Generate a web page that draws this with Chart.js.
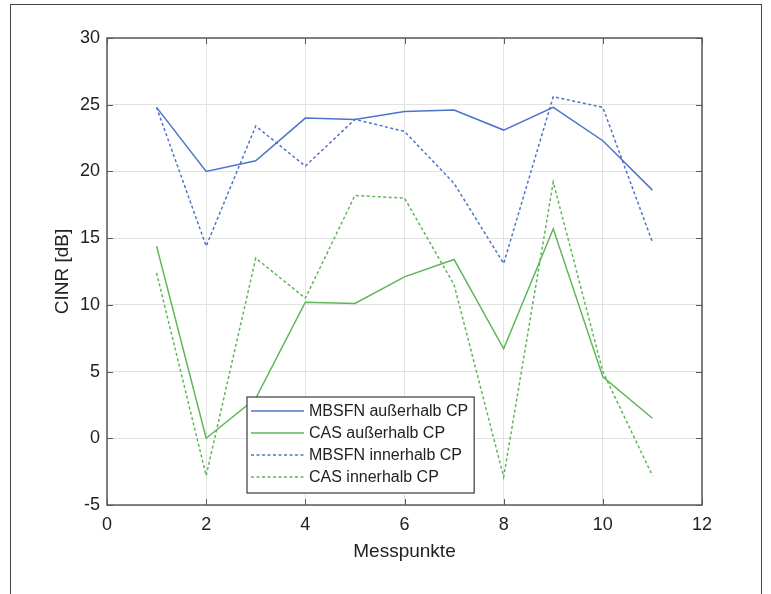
<!DOCTYPE html>
<html>
<head>
<meta charset="utf-8">
<script src="https://cdn.jsdelivr.net/npm/chart.js@4.4.1/dist/chart.umd.min.js"></script>
<style>
  html, body { margin: 0; padding: 0; background: #fff; }
  #wrap { position: relative; width: 771px; height: 594px; overflow: hidden; }
  #frame { position: absolute; left: 10px; top: 4px; width: 750px; height: 620px;
           border: 1px solid #444; pointer-events: none; }
</style>
</head>
<body>
<div id="wrap">
  <canvas id="chart"></canvas>
  <div id="frame"></div>
</div>
<script>
// DATA
const messpunkte = [1, 2, 3, 4, 5, 6, 7, 8, 9, 10, 11];
const mbsfnAusserhalb = [24.8, 20.0, 20.8, 24.0, 23.9, 24.5, 24.6, 23.1, 24.8, 22.3, 18.6];
const casAusserhalb   = [14.4, 0.0, 3.0, 10.2, 10.1, 12.1, 13.4, 6.7, 15.7, 4.6, 1.5];
const mbsfnInnerhalb  = [24.8, 14.4, 23.4, 20.4, 23.9, 23.0, 19.1, 13.1, 25.6, 24.8, 14.7];
const casInnerhalb    = [12.4, -2.8, 13.5, 10.5, 18.2, 18.0, 11.5, -2.9, 19.2, 5.0, -2.8];
const seriesNames = ['MBSFN außerhalb CP', 'CAS außerhalb CP', 'MBSFN innerhalb CP', 'CAS innerhalb CP'];
const xTicks = [0, 2, 4, 6, 8, 10, 12];
const yTicks = [-5, 0, 5, 10, 15, 20, 25, 30];

const BLUE = '#4d74c9';
const GREEN = '#5db757';
const FONT = '"Liberation Sans", Arial, sans-serif';

function pts(values) {
	return values.map((v, i) => ({ x: messpunkte[i], y: v }));
}

// inward ticks + box, like the original plot
const boxTicks = {
	id: 'boxTicks',
	afterDraw(chart) {
		const { ctx, chartArea: a, scales } = chart;
		const len = 6;
		ctx.save();
		ctx.strokeStyle = '#5a5a5a';
		ctx.lineWidth = 1;
		ctx.beginPath();
		scales.x.ticks.forEach(t => {
			const px = Math.round(scales.x.getPixelForValue(t.value)) + 0.5;
			ctx.moveTo(px, a.bottom); ctx.lineTo(px, a.bottom - len);
			ctx.moveTo(px, a.top); ctx.lineTo(px, a.top + len);
		});
		scales.y.ticks.forEach(t => {
			const py = Math.round(scales.y.getPixelForValue(t.value)) + 0.5;
			ctx.moveTo(a.left, py); ctx.lineTo(a.left + len, py);
			ctx.moveTo(a.right, py); ctx.lineTo(a.right - len, py);
		});
		ctx.stroke();
		ctx.lineWidth = 1.5;
		ctx.strokeRect(a.left, a.top, a.right - a.left, a.bottom - a.top);
		ctx.restore();
	}
};

// legend drawn inside the axes
const innerLegend = {
	id: 'innerLegend',
	afterDraw(chart) {
		const { ctx, chartArea: a } = chart;
		ctx.save();
		ctx.font = '16px ' + FONT;
		const sets = chart.data.datasets;
		let maxW = 0;
		sets.forEach(d => { maxW = Math.max(maxW, ctx.measureText(d.label).width); });
		const rowH = 22;
		const w = 62 + maxW + 6;
		const h = rowH * sets.length + 8;
		const x0 = a.left + 140;
		const y0 = a.bottom - 12 - h;
		ctx.fillStyle = '#fff';
		ctx.fillRect(x0, y0, w, h);
		ctx.strokeStyle = '#3a3a3a';
		ctx.lineWidth = 1.2;
		ctx.strokeRect(x0, y0, w, h);
		sets.forEach((d, i) => {
			const cy = y0 + 14 + i * rowH;
			ctx.strokeStyle = d.borderColor;
			ctx.lineWidth = d.borderWidth;
			ctx.setLineDash(d.borderDash || []);
			ctx.beginPath();
			ctx.moveTo(x0 + 4, cy);
			ctx.lineTo(x0 + 57, cy);
			ctx.stroke();
			ctx.setLineDash([]);
			ctx.fillStyle = '#222';
			ctx.textBaseline = 'middle';
			ctx.fillText(d.label, x0 + 62, cy + 1);
		});
		ctx.restore();
	}
};

const ctx = document.getElementById('chart').getContext('2d');
const chart = new Chart(ctx, {
	type: 'line',
	data: {
		datasets: [{
			label: seriesNames[0],
			data: pts(mbsfnAusserhalb),
			borderColor: BLUE,
			borderWidth: 1.5
		}, {
			label: seriesNames[1],
			data: pts(casAusserhalb),
			borderColor: GREEN,
			borderWidth: 1.5
		}, {
			label: seriesNames[2],
			data: pts(mbsfnInnerhalb),
			borderColor: BLUE,
			borderWidth: 1.5,
			borderDash: [3, 2.5]
		}, {
			label: seriesNames[3],
			data: pts(casInnerhalb),
			borderColor: GREEN,
			borderWidth: 1.5,
			borderDash: [3, 2.5]
		}]
	},
	options: {
		responsive: true,
		maintainAspectRatio: false,
		animation: false,
		layout: { padding: { left: 0, top: 38, right: 69, bottom: 0 } },
		elements: { point: { radius: 0 }, line: { tension: 0 } },
		plugins: {
			legend: { display: false },
			tooltip: { enabled: false }
		},
		scales: {
			x: {
				type: 'linear',
				min: 0,
				max: 12,
				afterFit: s => { s.height = 89; },
				afterBuildTicks: s => { s.ticks = xTicks.map(v => ({ value: v })); },
				grid: { color: '#e2e2e2', drawTicks: false },
				border: { display: false },
				ticks: { color: '#222', padding: 9, font: { family: FONT, size: 18 } },
				title: {
					display: true,
					text: 'Messpunkte',
					color: '#222',
					font: { family: FONT, size: 19 },
					padding: { top: 0, bottom: 31 }
				}
			},
			y: {
				min: -5,
				max: 30,
				afterFit: s => { s.width = 107; },
				afterBuildTicks: s => { s.ticks = yTicks.map(v => ({ value: v })); },
				grid: { color: '#e2e2e2', drawTicks: false },
				border: { display: false },
				ticks: { color: '#222', padding: 7, font: { family: FONT, size: 18 } },
				title: {
					display: true,
					text: 'CINR [dB]',
					color: '#222',
					font: { family: FONT, size: 19 },
					padding: { top: 51, bottom: 0 }
				}
			}
		}
	},
	plugins: [boxTicks, innerLegend]
});
</script>
</body>
</html>
